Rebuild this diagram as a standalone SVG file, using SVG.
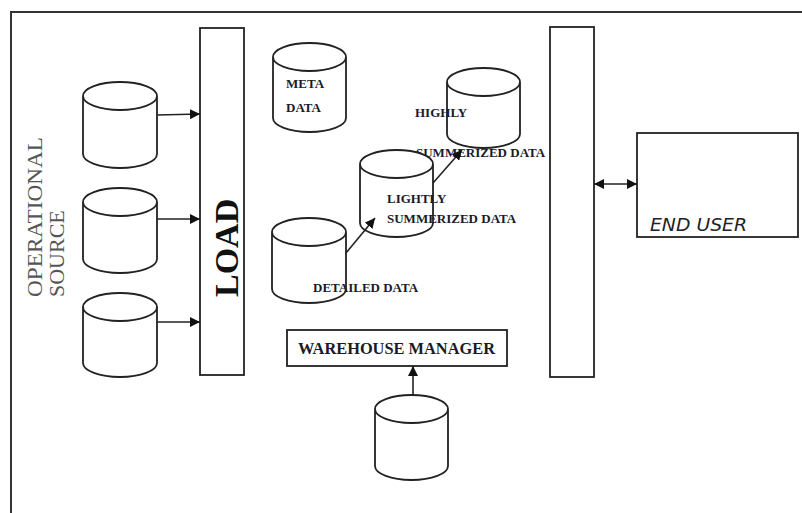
<svg xmlns="http://www.w3.org/2000/svg" width="802" height="513" viewBox="0 0 802 513">
<style>
.frame{fill:none;stroke:#333;stroke-width:2}
.box{fill:#fff;stroke:#222;stroke-width:1.8}
.cyl{fill:#fff;stroke:#222;stroke-width:1.8}
.con{fill:none;stroke:#222;stroke-width:1.6}
.lbl{font-family:"Liberation Serif",serif;font-weight:bold;font-size:13px;fill:#1a1a2a}
.op{font-family:"Liberation Serif",serif;font-size:22px;fill:#555}
.load{font-family:"Liberation Serif",serif;font-weight:bold;font-size:34px;fill:#111}
.wm{font-family:"Liberation Serif",serif;font-weight:bold;font-size:16px;fill:#1a1a2a}
.eu{font-family:"DejaVu Sans",sans-serif;font-style:italic;font-size:18px;fill:#222}
</style>
<defs>
<marker id="ah" markerUnits="userSpaceOnUse" markerWidth="10" markerHeight="10" viewBox="0 0 10 10" refX="10" refY="5" orient="auto">
<path d="M0,0 L10,5 L0,10 Z" fill="#111"/>
</marker>
<marker id="ahs" markerUnits="userSpaceOnUse" markerWidth="10" markerHeight="10" viewBox="0 0 10 10" refX="0" refY="5" orient="auto">
<path d="M10,0 L0,5 L10,10 Z" fill="#111"/>
</marker>
</defs>
<rect width="802" height="513" fill="#fff"/>
<path class="frame" d="M11,513 V12 H802"/>

<g id="operational-source">
<text class="op" transform="translate(42,297) rotate(-90)" textLength="160" lengthAdjust="spacingAndGlyphs">OPERATIONAL</text>
<text class="op" transform="translate(64,297) rotate(-90)">SOURCE</text>
</g>

<g id="source1"><path class="cyl" d="M83,96 A37,14 0 1 1 157,96 A37,14 0 1 1 83,96 Z M83,96 V154 A37,14 0 0 0 157,154 V96"/></g>
<g id="source2"><path class="cyl" d="M83,202 A37,14 0 1 1 157,202 A37,14 0 1 1 83,202 Z M83,202 V259 A37,14 0 0 0 157,259 V202"/></g>
<g id="source3"><path class="cyl" d="M83,307 A37,14 0 1 1 157,307 A37,14 0 1 1 83,307 Z M83,307 V363 A37,14 0 0 0 157,363 V307"/></g>

<g id="load">
<rect class="box" x="200" y="28" width="44" height="347"/>
<text class="load" transform="translate(238,297) rotate(-90)">LOAD</text>
</g>

<g id="meta-data">
<path class="cyl" d="M273,57 A36.5,14 0 1 1 346,57 A36.5,14 0 1 1 273,57 Z M273,57 V118 A36.5,14 0 0 0 346,118 V57"/>
<text class="lbl" x="286" y="88">META</text>
<text class="lbl" x="286" y="112">DATA</text>
</g>

<g id="highly-summerized">
<path class="cyl" d="M447,82 A36.5,14 0 1 1 520,82 A36.5,14 0 1 1 447,82 Z M447,82 V134 A36.5,14 0 0 0 520,134 V82"/>
<text class="lbl" x="415" y="117">HIGHLY</text>
<text class="lbl" x="416" y="157">SUMMERIZED DATA</text>
</g>

<g id="lightly-summerized">
<path class="cyl" d="M360,164 A36.5,14 0 1 1 433,164 A36.5,14 0 1 1 360,164 Z M360,164 V223 A36.5,14 0 0 0 433,223 V164"/>
<text class="lbl" x="387" y="203">LIGHTLY</text>
<text class="lbl" x="387" y="223">SUMMERIZED DATA</text>
</g>

<g id="detailed-data">
<path class="cyl" d="M272,232 A37,14 0 1 1 346,232 A37,14 0 1 1 272,232 Z M272,232 V289 A37,14 0 0 0 346,289 V232"/>
<text class="lbl" x="313" y="292">DETAILED DATA</text>
</g>

<g id="warehouse-manager">
<rect class="box" x="287" y="330" width="220" height="36"/>
<text class="wm" x="298" y="354" textLength="197" lengthAdjust="spacingAndGlyphs">WAREHOUSE MANAGER</text>
</g>

<g id="manager-db"><path class="cyl" d="M375,409 A36.5,14 0 1 1 448,409 A36.5,14 0 1 1 375,409 Z M375,409 V466 A36.5,14 0 0 0 448,466 V409"/></g>

<g id="access"><rect class="box" x="550" y="27" width="44" height="350"/></g>

<g id="end-user">
<rect class="box" x="637" y="133" width="161" height="104"/>
<text class="eu" x="650" y="231" textLength="97" lengthAdjust="spacingAndGlyphs">END USER</text>
</g>

<g id="connectors">
<line class="con" x1="157" y1="115" x2="200" y2="114" marker-end="url(#ah)"/>
<line class="con" x1="157" y1="219" x2="200" y2="219" marker-end="url(#ah)"/>
<line class="con" x1="157" y1="322" x2="200" y2="322" marker-end="url(#ah)"/>
<line class="con" x1="346" y1="253" x2="375" y2="218" marker-end="url(#ah)"/>
<line class="con" x1="433" y1="183" x2="462" y2="150" marker-end="url(#ah)"/>
<line class="con" x1="413" y1="395" x2="413" y2="366" marker-end="url(#ah)"/>
<line class="con" x1="594" y1="184" x2="637" y2="184" marker-start="url(#ahs)" marker-end="url(#ah)"/>
</g>
</svg>
